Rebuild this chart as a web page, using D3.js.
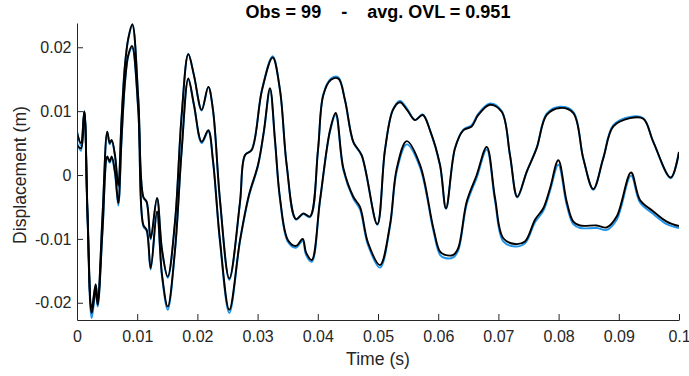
<!DOCTYPE html>
<html>
<head>
<meta charset="utf-8">
<script src="https://cdn.jsdelivr.net/npm/d3@7"></script>
<style>
  html, body { margin: 0; padding: 0; background: #fff; }
  svg text { font-family: "Liberation Sans", Arial, Helvetica, sans-serif; }
</style>
</head>
<body>
<svg id="chart" width="689" height="376"></svg>
<script>
// ---- data (time in s, displacement in m) ----
const titleText = "Obs = 99    -    avg. OVL = 0.951";
const xTicks = [0, 0.01, 0.02, 0.03, 0.04, 0.05, 0.06, 0.07, 0.08, 0.09, 0.1];
const xTickLabels = ["0", "0.01", "0.02", "0.03", "0.04", "0.05", "0.06", "0.07", "0.08", "0.09", "0.1"];
const yTicks = [-0.02, -0.01, 0, 0.01, 0.02];
const yTickLabels = ["-0.02", "-0.01", "0", "0.01", "0.02"];

const upperTime = [0, 0.00066, 0.00121, 0.00174, 0.00244, 0.0031, 0.00344, 0.00424, 0.00503, 0.00543,
  0.00576, 0.00631, 0.00686, 0.00739, 0.00797, 0.00852, 0.00919, 0.01018, 0.01101, 0.01158,
  0.01224, 0.01329, 0.01412, 0.01507, 0.01628, 0.01739, 0.01849, 0.01943, 0.02071, 0.02181,
  0.02259, 0.02375, 0.0253, 0.02708, 0.0279, 0.02902, 0.03073, 0.0325, 0.03372, 0.03483,
  0.03638, 0.03759, 0.0387, 0.04003, 0.04091, 0.04219, 0.04341, 0.04452, 0.0459, 0.04729,
  0.04988, 0.05116, 0.05249, 0.05365, 0.05482, 0.05615, 0.05743, 0.05864, 0.0603, 0.0613,
  0.06279, 0.06417, 0.06556, 0.06666, 0.0686, 0.07055, 0.07193, 0.07314, 0.0747, 0.07636,
  0.07802, 0.08023, 0.08244, 0.0841, 0.08576, 0.08742, 0.08909, 0.09186, 0.09407, 0.09573,
  0.09862, 0.1];
const upperBlack = [0.0066, 0.0050, 0.0099, -0.0055, -0.0208, -0.0171, -0.0197, -0.0063, 0.0068, 0.0050,
  0.0055, 0.0031, -0.0016, 0.0086, 0.0172, 0.0214, 0.0236, 0.0120, -0.0034, -0.0042,
  -0.0099, -0.0036, -0.0117, -0.0159, -0.0073, 0.0094, 0.0189, 0.0156, 0.0102, 0.0138,
  0.0102, -0.0039, -0.0162, -0.0042, 0.0031, 0.0039, 0.0133, 0.0184, 0.0133, 0.0016,
  -0.0069, -0.0060, -0.0065, 0.0039, 0.0125, 0.0149, 0.0151, 0.0117, 0.0052, 0.0031,
  -0.0077, 0.0039, 0.0102, 0.0114, 0.0102, 0.0086, 0.0094, 0.0070, 0.0016, -0.0052,
  0.0042, 0.0070, 0.0076, 0.0094, 0.0110, 0.0099, 0.0031, -0.0034, 0.0005, 0.0042,
  0.0094, 0.0105, 0.0097, 0.0026, -0.0022, 0.0026, 0.0076, 0.0089, 0.0088, 0.0052,
  -0.0004, 0.0036];
const upperBlue = [0.0069, 0.0046, 0.0100, -0.0057, -0.0212, -0.0172, -0.0199, -0.0064, 0.0067, 0.0048,
  0.0054, 0.0029, -0.0019, 0.0085, 0.0173, 0.0213, 0.0234, 0.0118, -0.0035, -0.0043,
  -0.0101, -0.0037, -0.0118, -0.0161, -0.0074, 0.0095, 0.0190, 0.0156, 0.0101, 0.0138,
  0.0101, -0.0040, -0.0164, -0.0043, 0.0031, 0.0040, 0.0134, 0.0186, 0.0133, 0.0015,
  -0.0070, -0.0061, -0.0066, 0.0039, 0.0126, 0.0151, 0.0153, 0.0117, 0.0051, 0.0030,
  -0.0078, 0.0040, 0.0103, 0.0116, 0.0104, 0.0086, 0.0095, 0.0070, 0.0015, -0.0053,
  0.0042, 0.0071, 0.0078, 0.0096, 0.0112, 0.0100, 0.0030, -0.0035, 0.0005, 0.0043,
  0.0096, 0.0107, 0.0099, 0.0026, -0.0023, 0.0027, 0.0078, 0.0091, 0.0089, 0.0052,
  -0.0005, 0.0036];

const lowerTime = [0, 0.00066, 0.00121, 0.00174, 0.00244, 0.0031, 0.00344, 0.00424, 0.00503, 0.00543,
  0.00576, 0.00631, 0.00686, 0.00739, 0.00797, 0.00852, 0.00914, 0.01018, 0.01101, 0.01158,
  0.01224, 0.01329, 0.01412, 0.01507, 0.01628, 0.01739, 0.01849, 0.01943, 0.02071, 0.02181,
  0.02259, 0.02375, 0.0253, 0.02708, 0.02857, 0.03007, 0.03106, 0.03206, 0.03289, 0.03372,
  0.03505, 0.03638, 0.03749, 0.03804, 0.03899, 0.04037, 0.04203, 0.04297, 0.04424, 0.0459,
  0.04701, 0.04834, 0.05033, 0.05199, 0.05311, 0.05477, 0.05698, 0.05919, 0.0603, 0.06113,
  0.06251, 0.06334, 0.06473, 0.0664, 0.06806, 0.06944, 0.07081, 0.07276, 0.07442, 0.07608,
  0.07746, 0.07857, 0.07995, 0.08135, 0.08244, 0.08355, 0.08633, 0.08799, 0.08965, 0.09203,
  0.09352, 0.09573, 0.09796, 0.1];
const lowerBlack = [0.0047, 0.0042, 0.0099, -0.0063, -0.0216, -0.0180, -0.0203, -0.0086, 0.0029, 0.0021,
  0.0029, 0.0005, -0.0044, 0.0055, 0.0146, 0.0188, 0.0202, 0.0102, -0.0078, -0.0086,
  -0.0146, -0.0057, -0.0156, -0.0206, -0.0117, 0.0039, 0.0151, 0.0110, 0.0052, 0.0070,
  0.0023, -0.0102, -0.0211, -0.0102, -0.0031, 0.0016, 0.0070, 0.0136, 0.0055, -0.0036,
  -0.0102, -0.0111, -0.0100, -0.0121, -0.0133, -0.0039, 0.0070, 0.0097, 0.0011, -0.0034,
  -0.0050, -0.0106, -0.0141, -0.0078, 0.0010, 0.0053, 0.0016, -0.0083, -0.0120, -0.0125,
  -0.0125, -0.0114, -0.0042, 0.0000, 0.0044, -0.0036, -0.0099, -0.0108, -0.0104, -0.0070,
  -0.0052, -0.0021, 0.0023, -0.0042, -0.0073, -0.0079, -0.0079, -0.0082, -0.0065, 0.0004,
  -0.0039, -0.0057, -0.0073, -0.0080];
const lowerBlue = [0.0050, 0.0038, 0.0100, -0.0066, -0.0224, -0.0183, -0.0206, -0.0088, 0.0027, 0.0019,
  0.0027, 0.0002, -0.0048, 0.0053, 0.0144, 0.0186, 0.0199, 0.0100, -0.0080, -0.0088,
  -0.0148, -0.0059, -0.0159, -0.0211, -0.0119, 0.0038, 0.0149, 0.0109, 0.0050, 0.0068,
  0.0021, -0.0105, -0.0216, -0.0104, -0.0033, 0.0014, 0.0068, 0.0133, 0.0052, -0.0038,
  -0.0105, -0.0114, -0.0103, -0.0125, -0.0136, -0.0041, 0.0068, 0.0094, 0.0008, -0.0037,
  -0.0054, -0.0110, -0.0145, -0.0081, 0.0006, 0.0048, 0.0012, -0.0087, -0.0125, -0.0130,
  -0.0129, -0.0118, -0.0046, -0.0004, 0.0040, -0.0041, -0.0104, -0.0112, -0.0107, -0.0074,
  -0.0056, -0.0025, 0.0016, -0.0047, -0.0077, -0.0083, -0.0083, -0.0086, -0.0070, -0.0001,
  -0.0043, -0.0061, -0.0077, -0.0083];

// ---- layout ----
const svg = d3.select("#chart");
const x = d3.scaleLinear().domain([0, 0.1]).range([77, 679]);
const y = d3.scaleLinear().domain([-0.0227, 0.0238]).range([320, 23]);
const axisColor = "#262626";

const line = d3.line()
  .x(d => x(d[0]))
  .y(d => y(d[1]))
  .curve(d3.curveCatmullRom.alpha(0.5));

const series = [
  { t: upperTime, v: upperBlue, color: "#1f93ea" },
  { t: lowerTime, v: lowerBlue, color: "#1f93ea" },
  { t: upperTime, v: upperBlack, color: "#000000" },
  { t: lowerTime, v: lowerBlack, color: "#000000" }
];

const plot = svg.append("g");
plot.append("defs").append("clipPath").attr("id", "clip")
  .append("rect").attr("x", 77).attr("y", 23).attr("width", 602).attr("height", 297);

series.forEach(s => {
  plot.append("path")
    .attr("clip-path", "url(#clip)")
    .attr("d", line(d3.zip(s.t, s.v)))
    .attr("fill", "none")
    .attr("stroke", s.color)
    .attr("stroke-width", 1.9)
    .attr("stroke-linejoin", "round");
});

// x axis (ticks point inward)
const xAxis = d3.axisBottom(x)
  .tickValues(xTicks)
  .tickFormat((d, i) => xTickLabels[i])
  .tickSizeInner(-6)
  .tickSizeOuter(0)
  .tickPadding(11);
const gx = svg.append("g").attr("transform", "translate(0,320)").call(xAxis);
gx.select(".domain").attr("stroke", axisColor).attr("stroke-width", 1);
gx.selectAll(".tick line").attr("stroke", axisColor);
gx.selectAll(".tick text").attr("fill", axisColor).attr("font-size", 16)
  .attr("font-family", "Liberation Sans, Arial, sans-serif");

// y axis
const yAxis = d3.axisLeft(y)
  .tickValues(yTicks)
  .tickFormat((d, i) => yTickLabels[i])
  .tickSizeInner(-6)
  .tickSizeOuter(0)
  .tickPadding(5.5);
const gy = svg.append("g").attr("transform", "translate(77,0)").call(yAxis);
gy.select(".domain").attr("stroke", axisColor).attr("stroke-width", 1);
gy.selectAll(".tick line").attr("stroke", axisColor);
gy.selectAll(".tick text").attr("fill", axisColor).attr("font-size", 16)
  .attr("font-family", "Liberation Sans, Arial, sans-serif");

// labels
svg.append("text")
  .attr("x", 378).attr("y", 364.5)
  .attr("text-anchor", "middle")
  .attr("font-size", 17.6)
  .attr("fill", axisColor)
  .text("Time (s)");

svg.append("text")
  .attr("transform", "translate(25.5,175) rotate(-90)")
  .attr("text-anchor", "middle")
  .attr("font-size", 17.6)
  .attr("fill", axisColor)
  .text("Displacement (m)");

svg.append("text")
  .attr("x", 378).attr("y", 17.5)
  .attr("text-anchor", "middle")
  .attr("font-size", 18)
  .attr("font-weight", "bold")
  .attr("fill", "#000")
  .attr("xml:space", "preserve")
  .style("white-space", "pre")
  .text(titleText);
</script>
</body>
</html>
